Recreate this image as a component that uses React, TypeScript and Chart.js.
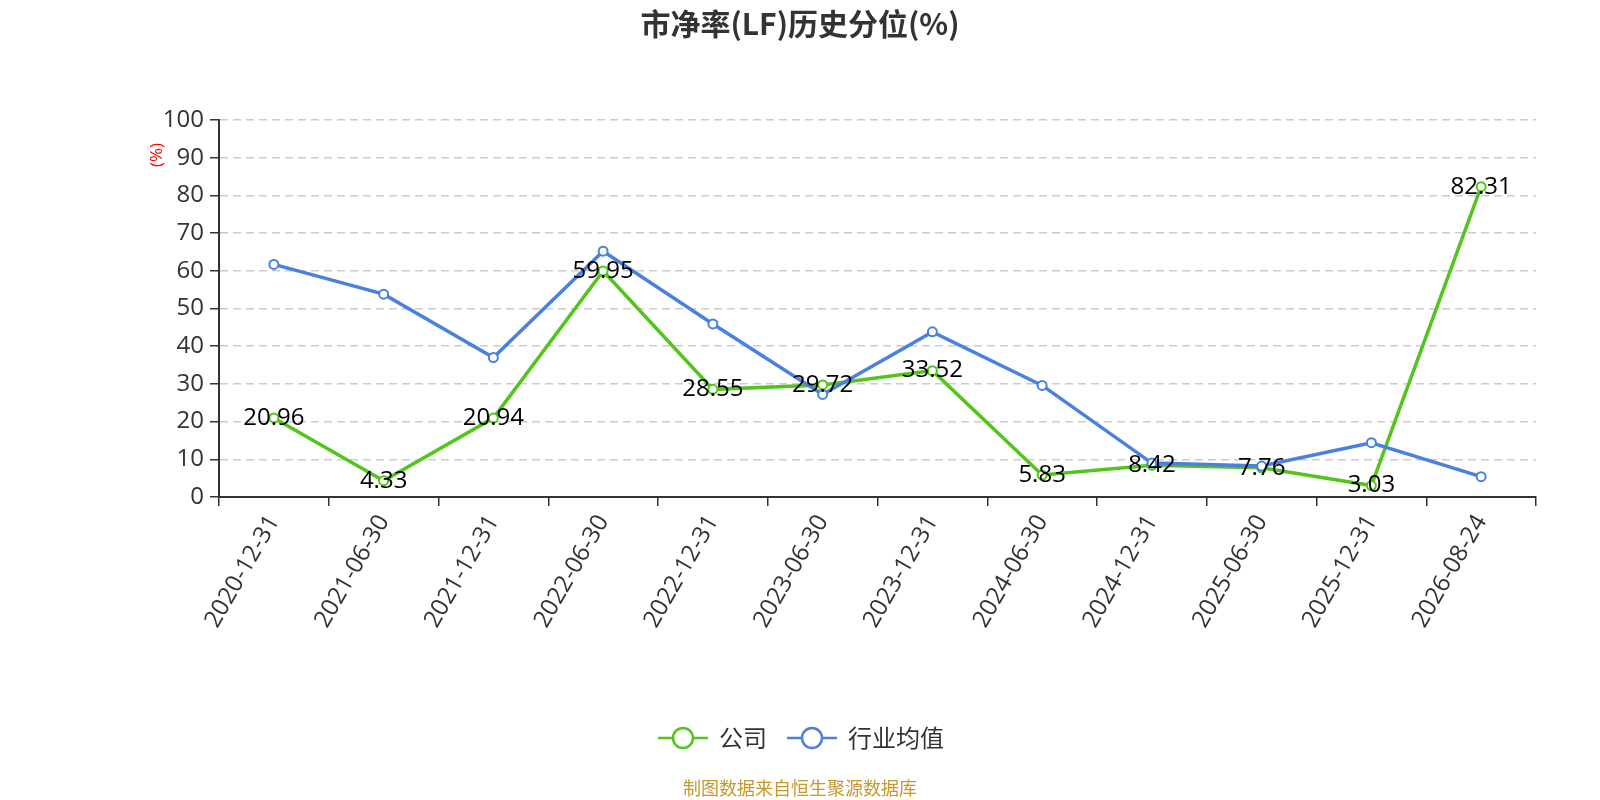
import React, { useEffect, useRef } from "react";
import { Chart, registerables, Plugin } from "chart.js";

Chart.register(...registerables);

const categories = [
  "2020-12-31",
  "2021-06-30",
  "2021-12-31",
  "2022-06-30",
  "2022-12-31",
  "2023-06-30",
  "2023-12-31",
  "2024-06-30",
  "2024-12-31",
  "2025-06-30",
  "2025-12-31",
  "2026-08-24",
];

const companyValues = [20.96, 4.33, 20.94, 59.95, 28.55, 29.72, 33.52, 5.83, 8.42, 7.76, 3.03, 82.31];
const industryValues = [61.7, 53.8, 37.0, 65.2, 45.9, 27.2, 43.8, 29.6, 9.0, 8.2, 14.4, 5.4];

const yTicks = [0, 10, 20, 30, 40, 50, 60, 70, 80, 90, 100];

const titleText = "市净率(LF)历史分位(%)";
const footerText = "制图数据来自恒生聚源数据库";
const legendNames = ["公司", "行业均值"];

const GREEN = "#52c41a";
const BLUE = "#4a80e0";
const FONT = '"Open Sans", "Noto Sans CJK SC", sans-serif';
const CJK = '"Noto Sans CJK SC", sans-serif';

// titel, legenda, label data, sumber
const decorPlugin: Plugin<"line"> = {
  id: "decor",
  afterDatasetsDraw(chart) {
    const ctx = chart.ctx;
    const meta = chart.getDatasetMeta(0);
    ctx.save();
    ctx.fillStyle = "#000";
    ctx.font = `24px ${FONT}`;
    ctx.textAlign = "center";
    ctx.textBaseline = "middle";
    meta.data.forEach((el, i) => {
      ctx.fillText(companyValues[i].toFixed(2), el.x, el.y);
    });
    ctx.restore();
  },
  afterDraw(chart) {
    const ctx = chart.ctx;
    const cx = 800;
    ctx.save();
    // judul
    ctx.fillStyle = "#333";
    ctx.font = `bold 30px ${CJK}`;
    ctx.textAlign = "center";
    ctx.textBaseline = "middle";
    ctx.fillText(titleText, cx, 24);

    // judul sumbu y
    ctx.save();
    ctx.translate(157, 155);
    ctx.rotate(-Math.PI / 2);
    ctx.fillStyle = "#ff0000";
    ctx.font = `17px ${FONT}`;
    ctx.fillText("(%)", 0, 0);
    ctx.restore();

    // legenda
    const ly = 738;
    const colors = [GREEN, BLUE];
    const starts = [658, 787];
    ctx.font = `24px ${CJK}`;
    ctx.textAlign = "left";
    legendNames.forEach((name, i) => {
      const x0 = starts[i];
      ctx.strokeStyle = colors[i];
      ctx.lineWidth = 2.5;
      ctx.beginPath();
      ctx.moveTo(x0, ly);
      ctx.lineTo(x0 + 50, ly);
      ctx.stroke();
      ctx.beginPath();
      ctx.arc(x0 + 25, ly, 10, 0, Math.PI * 2);
      ctx.fillStyle = "#fff";
      ctx.fill();
      ctx.stroke();
      ctx.fillStyle = "#333";
      ctx.fillText(name, x0 + 61, ly);
    });

    // sumber data
    ctx.textAlign = "center";
    ctx.fillStyle = "#c8962e";
    ctx.font = `18px ${CJK}`;
    ctx.fillText(footerText, cx, 788);
    ctx.restore();
  },
};

const App: React.FC = () => {
  const canvasRef = useRef<HTMLCanvasElement>(null);

  useEffect(() => {
    document.body.style.margin = "0";
    if (!canvasRef.current) return;
    const ctx = canvasRef.current.getContext("2d")!;

    const chart = new Chart(ctx, {
      type: "line",
      data: {
        labels: categories,
        datasets: [
          {
            label: legendNames[0],
            data: companyValues,
            borderColor: GREEN,
            backgroundColor: "#fff",
            pointBackgroundColor: "#fff",
            pointBorderColor: GREEN,
            borderWidth: 3.5,
            pointRadius: 4.5,
            pointBorderWidth: 2,
            tension: 0,
            order: 1,
          },
          {
            label: legendNames[1],
            data: industryValues,
            borderColor: BLUE,
            backgroundColor: "#fff",
            pointBackgroundColor: "#fff",
            pointBorderColor: BLUE,
            borderWidth: 3.5,
            pointRadius: 4.5,
            pointBorderWidth: 2,
            tension: 0,
            order: 0,
          },
        ],
      },
      options: {
        animation: false,
        responsive: false,
        maintainAspectRatio: false,
        devicePixelRatio: 1,
        layout: { padding: { left: 0, right: 64, top: 120, bottom: 0 } },
        plugins: {
          legend: { display: false },
          title: { display: false },
          tooltip: { enabled: false },
        },
        scales: {
          x: {
            type: "category",
            offset: true,
            afterFit: (scale) => {
              scale.height = 303;
            },
            grid: {
              offset: true,
              drawOnChartArea: false,
              color: "#333",
              tickLength: 9,
              lineWidth: 1.5,
            },
            border: { display: true, color: "#333", width: 2 },
            ticks: {
              color: "#333",
              font: { size: 24, family: FONT },
              maxRotation: 60,
              minRotation: 60,
              autoSkip: false,
              padding: 4,
            },
          },
          y: {
            min: 0,
            max: 100,
            afterFit: (scale) => {
              scale.width = 219;
            },
            afterBuildTicks: (scale) => {
              scale.ticks = yTicks.map((v) => ({ value: v }));
            },
            grid: {
              color: "#cccccc",
              lineWidth: 1.5,
              tickLength: 9,
              tickColor: "#333",
              tickWidth: 1.5,
              tickBorderDash: [],
            },
            border: { display: true, color: "#333", width: 2, dash: [8, 5] },
            ticks: {
              color: "#333",
              font: { size: 24, family: FONT },
              padding: 6,
            },
          },
        },
      },
      plugins: [decorPlugin],
    });

    return () => {
      chart.destroy();
    };
  }, []);

  return (
    <div style={{ position: "absolute", left: 0, top: 0, width: 1600, height: 800, background: "#fff" }}>
      <canvas ref={canvasRef} width={1600} height={800} style={{ width: 1600, height: 800 }} />
    </div>
  );
};

export default App;
